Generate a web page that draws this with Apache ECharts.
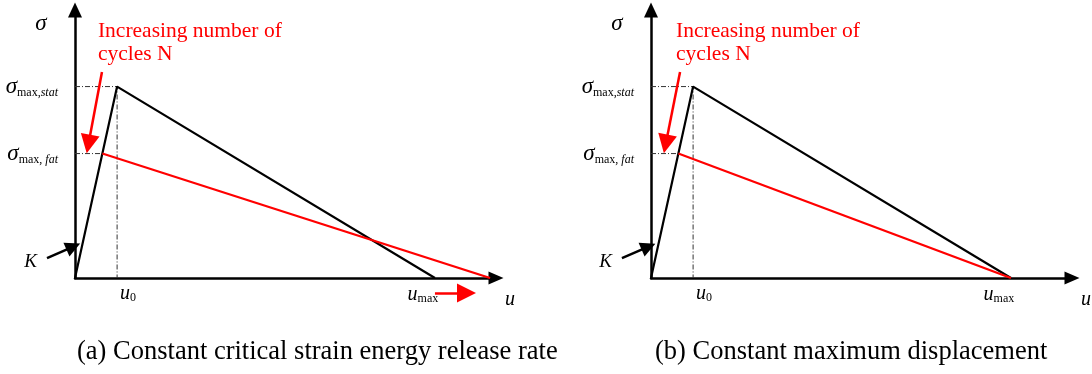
<!DOCTYPE html>
<html>
<head>
<meta charset="utf-8">
<style>
html, body { margin: 0; padding: 0; background: #fff; }
#chart { width: 1092px; height: 374px; }
</style>
<script src="https://cdn.jsdelivr.net/npm/echarts@6/dist/echarts.min.js"></script>
</head>
<body>
<div id="chart"></div>
<script>
// captions of the two panels
var captions = ['(a) Constant critical strain energy release rate', '(b) Constant maximum displacement'];

// curve values (normalised: u0 = 1, sigma_max,stat = 1)
var u0 = 1, sigmaStat = 1;
var uFat = 0.65, sigmaFat = 0.65;
var uMax = [8.55, 8.55];      // static curve hits the u axis
var uMaxFat = [9.86, 8.55];   // fatigue curve hits the u axis
var uAxisMax = 10, sigmaAxisMax = 1.4;

// annotation arrows, [from, to] in data units
var cycleArrow = [[[0.64, 1.076], [0.32, 0.70]], [[0.69, 1.076], [0.35, 0.70]]];
var kArrow = [[[-0.665, 0.104], [-0.04, 0.164]], [[-0.69, 0.104], [-0.06, 0.164]]];
var uMaxArrow = [[8.55, -0.078], [9.3, -0.078]];

var serif = '"Liberation Serif", "Times New Roman", serif';
var red = '#ff0000';

var rich = {
    g: { fontFamily: serif, fontStyle: 'italic', fontSize: 23, lineHeight: 24, color: '#000' },
    s: { fontFamily: serif, fontSize: 12, lineHeight: 12, verticalAlign: 'bottom', color: '#000' },
    si: { fontFamily: serif, fontStyle: 'italic', fontSize: 12, lineHeight: 12, verticalAlign: 'bottom', color: '#000' },
    u: { fontFamily: serif, fontStyle: 'italic', fontSize: 20, lineHeight: 20, color: '#000' },
    k: { fontFamily: serif, fontStyle: 'italic', fontSize: 19, lineHeight: 20, color: '#000' }
};

var grids = [], xAxes = [], yAxes = [], series = [], titles = [];
var panelLeft = [75, 651];
var captionLeft = [77, 655];

for (var i = 0; i < 2; i++) {
    grids.push({ left: panelLeft[i], top: 10, width: 421, height: 268 });
    xAxes.push({
        gridIndex: i, type: 'value', min: 0, max: uAxisMax,
        axisLine: { symbol: ['none', 'triangle'], symbolSize: [13, 15], lineStyle: { color: '#000', width: 2.5 } },
        axisTick: { show: false }, axisLabel: { show: false }, splitLine: { show: false }
    });
    yAxes.push({
        gridIndex: i, type: 'value', min: 0, max: sigmaAxisMax,
        axisLine: { symbol: ['none', 'triangle'], symbolSize: [14, 15], lineStyle: { color: '#000', width: 2.5 } },
        axisTick: { show: false }, axisLabel: { show: false }, splitLine: { show: false }
    });

    var guide = { color: '#333', width: 1, type: [5, 2, 1, 2] };
    // dash-dot guides
    series.push({
        type: 'line', xAxisIndex: i, yAxisIndex: i, symbol: 'none', silent: true,
        lineStyle: guide, data: [[0, sigmaStat], [u0, sigmaStat], [u0, 0]]
    });
    series.push({
        type: 'line', xAxisIndex: i, yAxisIndex: i, symbol: 'none', silent: true,
        lineStyle: guide, data: [[0, sigmaFat], [uFat, sigmaFat]]
    });
    // static curve
    series.push({
        type: 'line', xAxisIndex: i, yAxisIndex: i, symbol: 'none', silent: true, z: 3,
        lineStyle: { color: '#000', width: 2.2 },
        data: [[0, 0], [u0, sigmaStat], [uMax[i], 0]]
    });
    // fatigue curve
    series.push({
        type: 'line', xAxisIndex: i, yAxisIndex: i, symbol: 'none', silent: true, z: 4,
        lineStyle: { color: red, width: 2.2 },
        data: [[uFat, sigmaFat], [uMaxFat[i], 0]]
    });

    // arrows
    var redArrows = [{ coords: cycleArrow[i] }];
    if (i === 0) redArrows.push({ coords: uMaxArrow });
    series.push({
        type: 'lines', coordinateSystem: 'cartesian2d', xAxisIndex: i, yAxisIndex: i,
        silent: true, clip: false, z: 5,
        symbol: ['none', 'triangle'], symbolSize: 19,
        lineStyle: { color: red, width: 2.5, opacity: 1 },
        data: redArrows
    });
    series.push({
        type: 'lines', coordinateSystem: 'cartesian2d', xAxisIndex: i, yAxisIndex: i,
        silent: true, clip: false, z: 5,
        symbol: ['none', 'triangle'], symbolSize: 15,
        lineStyle: { color: '#000', width: 2.5, opacity: 1 },
        data: [{ coords: kArrow[i] }]
    });

    // text labels anchored on data points
    var labels = [
        { value: [0, sigmaStat], label: { formatter: '{g|σ}{s|max,}{si|stat}', position: 'left', distance: 17 } },
        { value: [0, sigmaFat], label: { formatter: '{g|σ}{s|max, }{si|fat}', position: 'left', distance: 17 } },
        { value: [u0, 0], label: { formatter: '{u|u}{s|0}', position: 'inside', offset: [11, 16] } },
        { value: [uMax[i], 0], label: { formatter: '{u|u}{s|max}', position: 'inside', offset: [-12, 17] } },
        { value: [uAxisMax, 0], label: { formatter: '{u|u}', position: 'inside', offset: [14, 22] } },
        { value: [0, sigmaAxisMax], label: { formatter: '{g|σ}', position: 'inside', offset: [-34, 14] } },
        { value: kArrow[i][0], label: { formatter: '{k|K}', position: 'left', distance: 10, offset: [0, 4] } },
        { value: cycleArrow[i][0], label: {
            formatter: 'Increasing number of\ncycles N', position: 'inside', align: 'left', verticalAlign: 'bottom',
            offset: [-4, -6], color: red, fontFamily: serif, fontSize: 21.5, lineHeight: 23 } }
    ];
    series.push({
        type: 'scatter', xAxisIndex: i, yAxisIndex: i, symbolSize: 0, silent: true, clip: false, z: 6,
        itemStyle: { opacity: 1 },
        label: { show: true, color: '#000', rich: rich },
        data: labels
    });

    titles.push({
        text: captions[i], left: captionLeft[i], top: 339, padding: 0,
        textStyle: { fontFamily: serif, fontSize: 26.5, fontWeight: 'normal', color: '#000' }
    });
}

var myChart = echarts.init(document.getElementById('chart'));
myChart.setOption({
    animation: false,
    backgroundColor: '#fff',
    title: titles,
    grid: grids,
    xAxis: xAxes,
    yAxis: yAxes,
    series: series
});
</script>
</body>
</html>
